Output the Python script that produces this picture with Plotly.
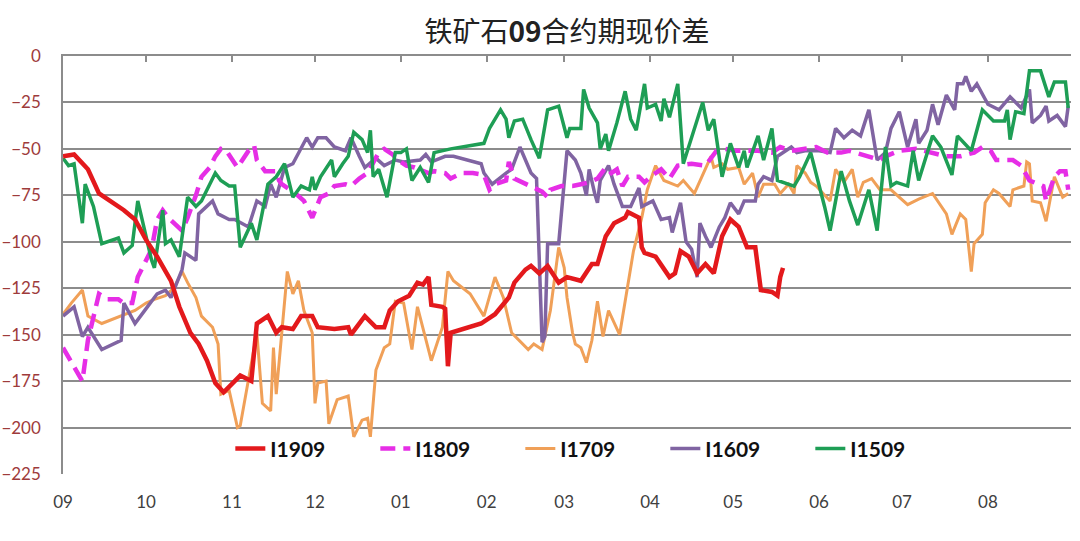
import plotly.graph_objs as go
import pandas as pd

# x = days since 1 Sep of the contract's starting year, y = basis (yuan/t)
base_date = pd.Timestamp('2018-09-01')
month_labels = ['09', '10', '11', '12', '01', '02', '03', '04', '05', '06', '07', '08']

days_1909 = [0, 4, 9, 13, 22, 26, 30, 34, 39, 42,
             46, 49, 52, 55, 58, 64, 68, 70, 74, 77,
             79, 83, 86, 90, 92, 98, 103, 104, 109, 113,
             116, 118, 121, 125, 128, 130, 132, 133, 137, 138,
             139, 140, 151, 156, 161, 163, 167, 169, 172, 175,
             179, 182, 187, 191, 193, 196, 199, 203, 204, 208,
             209, 210, 214, 216, 219, 221, 223, 226, 229, 232,
             235, 238, 241, 244, 247, 250, 252, 256, 258, 259,
             260]
vals_1909 = [-54, -53, -61, -74, -83, -88, -99, -108, -121, -135,
             -149, -155, -164, -176, -181, -172, -175, -144, -140, -149,
             -146, -147, -140, -140, -146, -147, -146, -150, -140, -146,
             -146, -137, -132, -129, -122, -123, -119, -134, -135, -136,
             -167, -149, -144, -139, -130, -122, -115, -113, -117, -113,
             -122, -119, -121, -112, -112, -97, -90, -87, -84, -87,
             -103, -106, -108, -112, -119, -117, -105, -108, -117, -112,
             -117, -97, -88, -92, -103, -103, -126, -127, -129, -119,
             -114]

days_1809 = [0, 3, 7, 9, 13, 16, 20, 22, 25, 27,
             29, 32, 34, 36, 38, 40, 43, 45, 48, 50,
             53, 55, 57, 59, 61, 63, 67, 69, 70, 73,
             77, 78, 79, 84, 87, 90, 93, 96, 98, 102,
             104, 107, 110, 114, 116, 119, 121, 124, 127, 132,
             134, 138, 140, 144, 148, 152, 154, 156, 160, 161,
             163, 166, 169, 173, 175, 176, 180, 184, 187, 190,
             193, 196, 198, 200, 202, 204, 208, 210, 213, 216,
             219, 222, 227, 232, 236, 239, 243, 246, 251, 256,
             259, 263, 268, 272, 276, 281, 284, 290, 295, 297,
             302, 308, 314, 319, 324, 329, 332, 335, 337, 343,
             346, 349, 354, 355, 358, 360, 362, 363]
vals_1809 = [-157, -165, -175, -153, -128, -131, -131, -133, -133, -119,
             -113, -104, -88, -83, -87, -90, -94, -87, -75, -65,
             -60, -54, -50, -51, -56, -60, -51, -48, -56, -62,
             -62, -67, -69, -74, -78, -87, -76, -74, -70, -69,
             -70, -66, -63, -52, -50, -53, -56, -59, -60, -63,
             -62, -63, -66, -63, -63, -64, -72, -69, -67, -57,
             -66, -68, -70, -73, -76, -72, -70, -70, -69, -68,
             -66, -60, -63, -61, -70, -65, -65, -68, -64, -61,
             -66, -59, -58, -59, -51, -50, -51, -51, -51, -52,
             -49, -51, -50, -49, -52, -52, -51, -54, -56, -54,
             -51, -50, -52, -54, -54, -52, -49, -51, -56, -56,
             -59, -67, -70, -78, -65, -62, -62, -72]

days_1709 = [0, 3, 7, 9, 14, 21, 26, 30, 33, 37,
             40, 43, 45, 48, 50, 54, 56, 57, 60, 63,
             64, 70, 72, 75, 76, 77, 79, 81, 83, 85,
             87, 90, 91, 92, 95, 96, 99, 103, 105, 108,
             110, 111, 113, 116, 118, 120, 123, 126, 128, 133,
             137, 139, 141, 147, 152, 156, 159, 162, 168, 170,
             173, 176, 179, 181, 182, 184, 185, 187, 189, 191,
             193, 195, 197, 201, 204, 206, 209, 211, 214, 217,
             222, 224, 228, 234, 235, 238, 240, 244, 246, 249,
             251, 253, 257, 259, 262, 264, 265, 268, 270, 272,
             277, 279, 282, 285, 287, 289, 292, 295, 299, 305,
             309, 314, 319, 321, 324, 326, 328, 329, 332, 333,
             336, 338, 342, 343, 347, 348, 349, 350, 353, 355,
             358, 361, 363]
vals_1709 = [-139, -133, -126, -140, -144, -140, -137, -133, -131, -129,
             -125, -116, -122, -130, -140, -146, -155, -182, -180, -200,
             -199, -149, -187, -191, -157, -182, -149, -116, -128, -121,
             -137, -149, -187, -176, -175, -198, -185, -183, -205, -196,
             -195, -205, -169, -157, -155, -132, -133, -158, -135, -164,
             -146, -116, -121, -128, -140, -119, -130, -149, -158, -155,
             -158, -137, -103, -114, -130, -149, -155, -157, -165, -153,
             -132, -151, -137, -150, -123, -105, -87, -72, -59, -67,
             -70, -67, -74, -54, -60, -58, -61, -60, -69, -63,
             -76, -69, -69, -74, -69, -74, -59, -63, -68, -70,
             -78, -61, -68, -61, -76, -68, -66, -72, -72, -80,
             -77, -74, -85, -96, -85, -88, -116, -101, -96, -79,
             -72, -74, -81, -72, -70, -57, -58, -78, -79, -89,
             -65, -76, -74]

days_1609 = [0, 4, 7, 9, 14, 21, 22, 26, 30, 34,
             37, 39, 43, 44, 48, 49, 54, 56, 60, 62,
             67, 70, 73, 75, 77, 80, 83, 86, 88, 90,
             92, 95, 98, 102, 104, 107, 109, 113, 116, 120,
             123, 129, 131, 133, 138, 141, 151, 152, 154, 155,
             160, 162, 165, 167, 169, 171, 173, 174, 175, 179,
             182, 185, 187, 189, 190, 192, 193, 194, 197, 199,
             202, 205, 208, 209, 213, 216, 219, 220, 223, 225,
             227, 229, 230, 232, 234, 237, 239, 241, 244, 246,
             250, 251, 253, 256, 258, 261, 263, 265, 268, 273,
             277, 279, 282, 285, 288, 291, 294, 297, 299, 302,
             305, 308, 309, 312, 314, 316, 319, 322, 323, 325,
             326, 328, 330, 334, 338, 342, 346, 349, 350, 353,
             355, 356, 359, 361, 362, 363]
vals_1609 = [-140, -135, -151, -146, -158, -153, -133, -144, -136, -128,
             -126, -130, -115, -106, -110, -85, -78, -85, -88, -88,
             -92, -78, -81, -69, -76, -60, -58, -49, -44, -49,
             -44, -44, -49, -51, -44, -54, -60, -55, -59, -56,
             -57, -56, -53, -57, -54, -54, -58, -63, -67, -69,
             -63, -61, -49, -56, -63, -66, -154, -151, -101, -101,
             -51, -56, -63, -75, -61, -74, -79, -67, -59, -69,
             -81, -81, -71, -81, -78, -88, -87, -95, -79, -100,
             -104, -119, -90, -97, -103, -92, -87, -79, -85, -78,
             -78, -69, -65, -67, -54, -51, -49, -52, -51, -51,
             -52, -39, -44, -40, -43, -29, -56, -52, -39, -30,
             -49, -34, -47, -40, -26, -37, -21, -29, -15, -15,
             -11, -19, -15, -26, -29, -22, -28, -18, -36, -32,
             -27, -35, -32, -36, -38, -27]

days_1509 = [0, 2, 4, 7, 8, 11, 14, 20, 22, 25,
             27, 30, 32, 33, 36, 37, 39, 42, 45, 48,
             50, 55, 57, 60, 62, 64, 68, 70, 74, 77,
             80, 83, 86, 89, 90, 91, 93, 97, 98, 101,
             103, 105, 108, 110, 111, 112, 114, 117, 120, 122,
             124, 126, 129, 132, 134, 140, 152, 154, 158, 160,
             161, 163, 166, 169, 172, 175, 179, 182, 183, 187,
             188, 190, 193, 194, 196, 197, 200, 203, 205, 207,
             210, 211, 214, 216, 217, 219, 222, 224, 231, 233,
             235, 238, 241, 244, 246, 247, 251, 253, 256, 258,
             264, 266, 270, 275, 277, 281, 284, 287, 291, 294,
             297, 299, 301, 305, 307, 309, 314, 317, 321, 323,
             328, 332, 336, 340, 341, 342, 344, 347, 349, 353,
             356, 358, 360, 362, 363]
vals_1509 = [-55, -59, -58, -90, -69, -81, -101, -98, -106, -102,
             -78, -97, -110, -114, -83, -101, -99, -108, -76, -81,
             -78, -63, -67, -70, -70, -103, -90, -99, -69, -65,
             -58, -76, -70, -72, -65, -72, -65, -56, -65, -58,
             -54, -41, -45, -52, -40, -65, -61, -76, -52, -52,
             -50, -67, -60, -68, -52, -50, -47, -39, -29, -34,
             -44, -35, -34, -45, -55, -29, -27, -44, -39, -39,
             -18, -28, -36, -50, -42, -51, -36, -19, -34, -40,
             -15, -28, -26, -35, -23, -33, -15, -58, -25, -40,
             -34, -65, -47, -60, -51, -60, -43, -56, -39, -67,
             -70, -65, -52, -81, -94, -62, -78, -91, -72, -94,
             -49, -70, -68, -70, -51, -67, -43, -49, -64, -43,
             -51, -29, -35, -35, -29, -45, -30, -31, -8, -8,
             -22, -14, -14, -14, -28]

y_ticks = [0, -25, -50, -75, -100, -125, -150, -175, -200, -225]


def to_dates(days):
    return base_date + pd.to_timedelta(days, unit='D')


# drawing order (last on top), legend order set by legendrank
series = [
    ('I1709', days_1709, vals_1709, '#F0A058', 3, 'solid', 3),
    ('I1609', days_1609, vals_1609, '#8064A2', 3.5, 'solid', 4),
    ('I1809', days_1809, vals_1809, '#E62EE6', 4.5, '15px,8px', 2),
    ('I1509', days_1509, vals_1509, '#1E9E55', 3.5, 'solid', 5),
    ('I1909', days_1909, vals_1909, '#E3191C', 4.5, 'solid', 1),
]

data = []
for name, days, vals, color, width, dash, rank in series:
    trace = go.Scatter(
        x=to_dates(days),
        y=vals,
        name=name,
        mode='lines',
        legendrank=rank,
        line=dict(color=color, width=width, dash=dash)
    )
    data.append(trace)

# dummy trace so the top axis (tick marks at y=0) gets drawn
data.append(go.Scatter(x=[base_date], y=[None], xaxis='x2',
                       showlegend=False, hoverinfo='skip'))

x_range = [base_date, base_date + pd.Timedelta(days=364)]
grid_color = '#8C8C8C'

layout = go.Layout(
    width=1080,
    height=541,
    margin=dict(l=63, r=9, t=56, b=67),
    paper_bgcolor='white',
    plot_bgcolor='white',
    title=dict(
        text='铁矿石<b>09</b>合约期现价差',
        x=0.5,
        xref='paper',
        xanchor='center',
        y=0.94,
        yanchor='middle',
        font=dict(family='Noto Sans CJK SC', size=28, color='#222222')
    ),
    xaxis=dict(
        type='date',
        range=x_range,
        tick0=base_date,
        dtick='M1',
        tickformat='%m',
        showgrid=False,
        zeroline=False,
        showline=False,
        ticks='',
        automargin=False,
        ticklabelstandoff=16,
        tickfont=dict(family='Lato', size=17, color='#404040')
    ),
    xaxis2=dict(
        type='date',
        range=x_range,
        overlaying='x',
        side='top',
        anchor='y',
        tick0=base_date,
        dtick='M1',
        showgrid=False,
        zeroline=False,
        showline=True,
        linecolor=grid_color,
        linewidth=1.5,
        ticks='inside',
        ticklen=6,
        tickwidth=1.5,
        tickcolor=grid_color,
        automargin=False,
        showticklabels=False
    ),
    yaxis=dict(
        range=[-225, 0],
        tickvals=y_ticks,
        showgrid=True,
        gridcolor=grid_color,
        gridwidth=1.5,
        zeroline=False,
        showline=True,
        linecolor=grid_color,
        linewidth=1.5,
        ticks='',
        automargin=False,
        ticklabelstandoff=17,
        tickfont=dict(family='Lato', size=17, color='#9E3B3B')
    ),
    legend=dict(
        orientation='h',
        x=0.166,
        xanchor='left',
        y=0.06,
        yanchor='middle',
        bgcolor='rgba(255,255,255,0)',
        entrywidth=100,
        font=dict(family='Lato', size=21, color='#111111', weight='bold')
    ),
    showlegend=True
)

fig = go.Figure(data=data, layout=layout)
# drop the browser's default 8px body margin so the figure fills the window
fig.write_html('out.html', config={'displayModeBar': False},
               post_script="document.body.style.margin = '0';")
